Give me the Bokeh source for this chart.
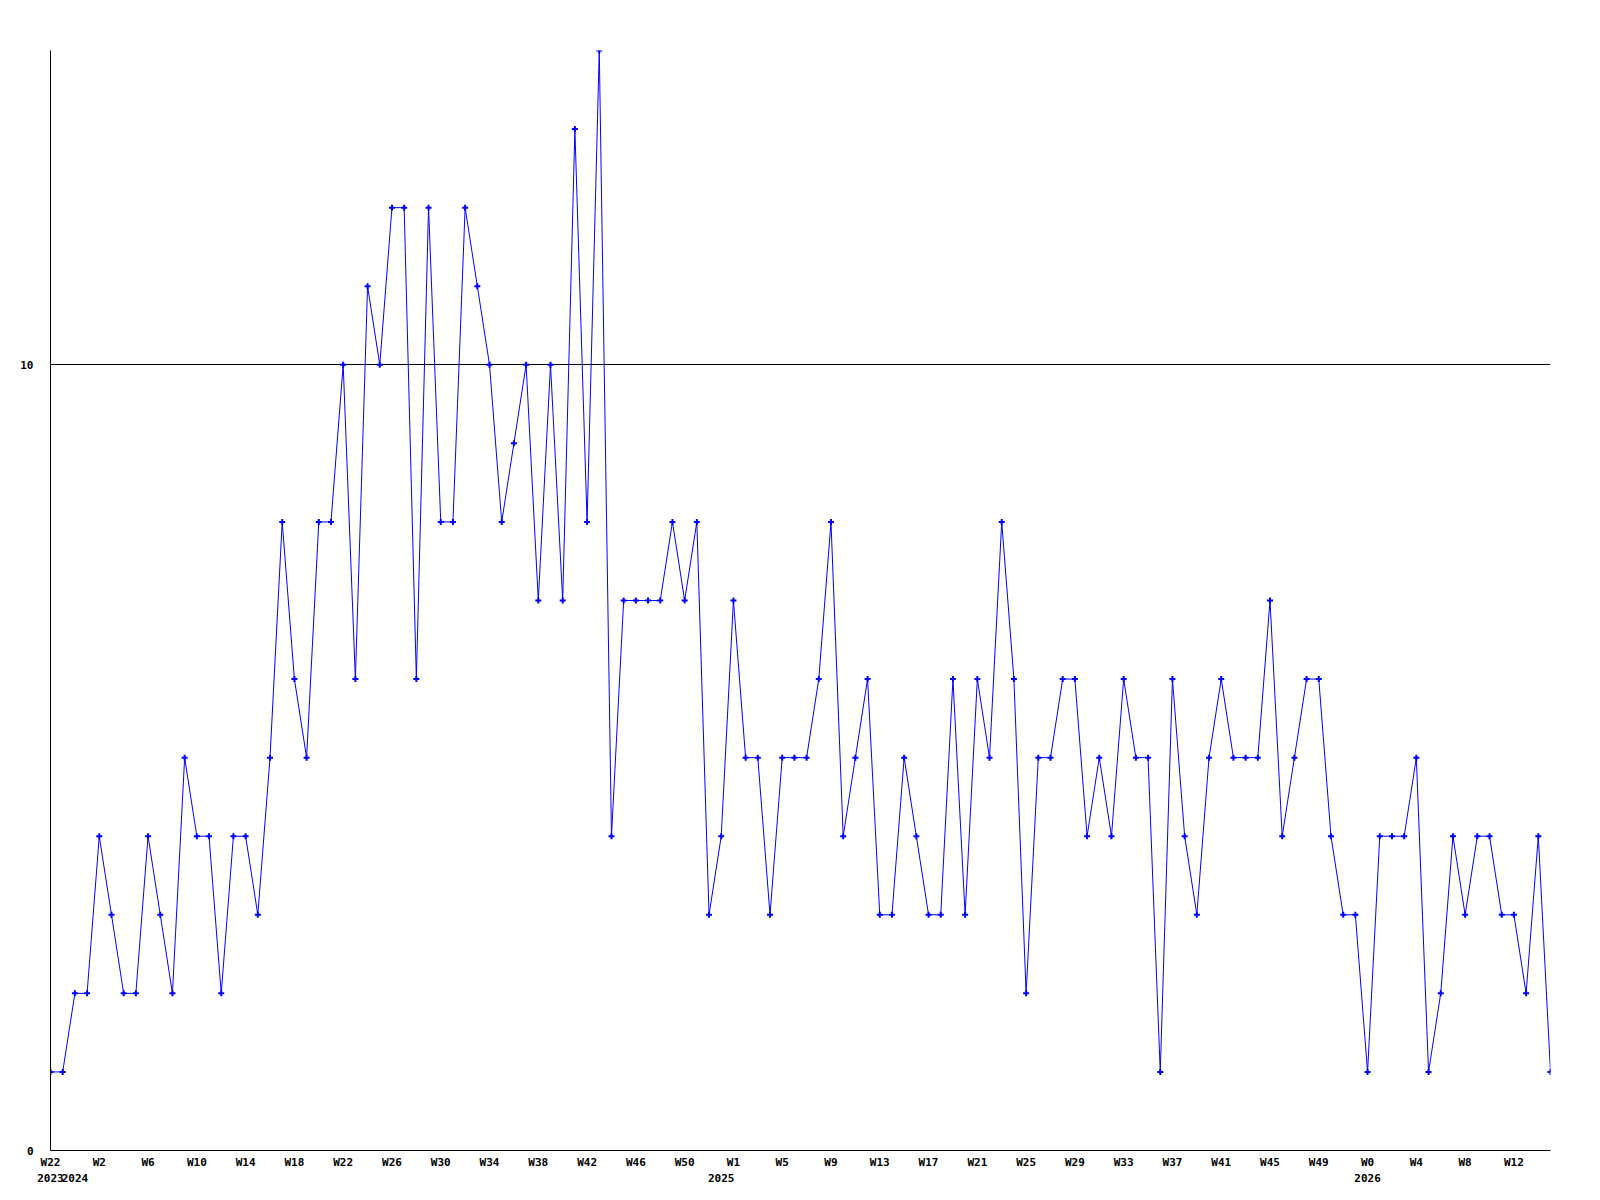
from bokeh.plotting import figure
from bokeh.models import Range1d, FixedTicker, LinearAxis
from bokeh.embed import file_html
from bokeh.resources import INLINE

# weekly counts (one point per week, evenly spaced)
counts = [1, 1, 2, 2, 4, 3, 2, 2, 4, 3, 2, 5, 4, 4, 2, 4, 4, 3, 5, 8,
          6, 5, 8, 8, 10, 6, 11, 10, 12, 12, 6, 12, 8, 8, 12, 11, 10, 8, 9, 10,
          7, 10, 7, 13, 8, 14, 4, 7, 7, 7, 7, 8, 7, 8, 3, 4, 7, 5, 5, 3,
          5, 5, 5, 6, 8, 4, 5, 6, 3, 3, 5, 4, 3, 3, 6, 3, 6, 5, 8, 6,
          2, 5, 5, 6, 6, 4, 5, 4, 6, 5, 5, 1, 6, 4, 3, 5, 6, 5, 5, 5,
          7, 4, 5, 6, 6, 4, 3, 3, 1, 4, 4, 4, 5, 1, 2, 4, 3, 4, 4, 3,
          3, 2, 4, 1]

# x tick labels (week numbers) at every 4th point
week_tick_index = [0, 4, 8, 12, 16, 20, 24, 28, 32, 36, 40, 44, 48, 52,
                   56, 60, 64, 68, 72, 76, 80, 84, 88, 92, 96, 100, 104,
                   108, 112, 116, 120]
week_tick_labels = ["W22", "W2", "W6", "W10", "W14", "W18", "W22", "W26", "W30",
                    "W34", "W38", "W42", "W46", "W50",
                    "W1", "W5", "W9", "W13", "W17", "W21", "W25", "W29", "W33",
                    "W37", "W41", "W45", "W49",
                    "W0", "W4", "W8", "W12"]

# year labels at the first point of each year
year_index = [0, 2, 55, 108]
year_labels = ["2023", "2024", "2025", "2026"]

# y ticks
y_ticks = [0, 10]
y_tick_labels = ["0", "10"]

x = list(range(len(counts)))

FONT = "DejaVu Sans Mono"

p = figure(frame_width=1500, frame_height=1100,
           x_range=Range1d(0, len(counts) - 1), y_range=Range1d(0, 14),
           output_backend="svg", toolbar_location=None,
           min_border_left=50, min_border_right=34,
           min_border_top=50, min_border_bottom=10)
p.background_fill_color = "white"
p.border_fill_color = "white"
p.outline_line_color = None

p.xgrid.grid_line_color = None
p.ygrid.ticker = FixedTicker(ticks=[10])
p.ygrid.grid_line_color = "black"
p.ygrid.grid_line_width = 1
p.ygrid.grid_line_alpha = 1.0


def style_axis(ax, standoff):
    ax.major_tick_line_color = None
    ax.minor_tick_line_color = None
    ax.major_tick_out = 0
    ax.major_tick_in = 0
    ax.minor_tick_out = 0
    ax.minor_tick_in = 0
    ax.major_label_standoff = standoff
    ax.major_label_text_font = FONT
    ax.major_label_text_font_style = "bold"
    ax.major_label_text_font_size = "11px"
    ax.major_label_text_color = "black"


# week axis
xa = p.xaxis[0]
xa.ticker = FixedTicker(ticks=week_tick_index)
xa.major_label_overrides = {t: s for t, s in zip(week_tick_index, week_tick_labels)}
xa.axis_line_color = "black"
style_axis(xa, 5)

# year axis (second row below)
ya2 = LinearAxis(ticker=FixedTicker(ticks=year_index),
                 major_label_overrides={t: s for t, s in zip(year_index, year_labels)})
ya2.axis_line_color = None
style_axis(ya2, 2)
p.add_layout(ya2, "below")

# y axis
yax = p.yaxis[0]
yax.ticker = FixedTicker(ticks=y_ticks)
yax.major_label_overrides = {t: s for t, s in zip(y_ticks, y_tick_labels)}
yax.axis_line_color = "black"
style_axis(yax, 17)

p.line(x, counts, line_color="#0000ff", line_width=1)
p.scatter(x, counts, marker="cross", size=6, line_color="#0000ff", line_width=2)

open("out.html", "w").write(file_html(p, INLINE))
